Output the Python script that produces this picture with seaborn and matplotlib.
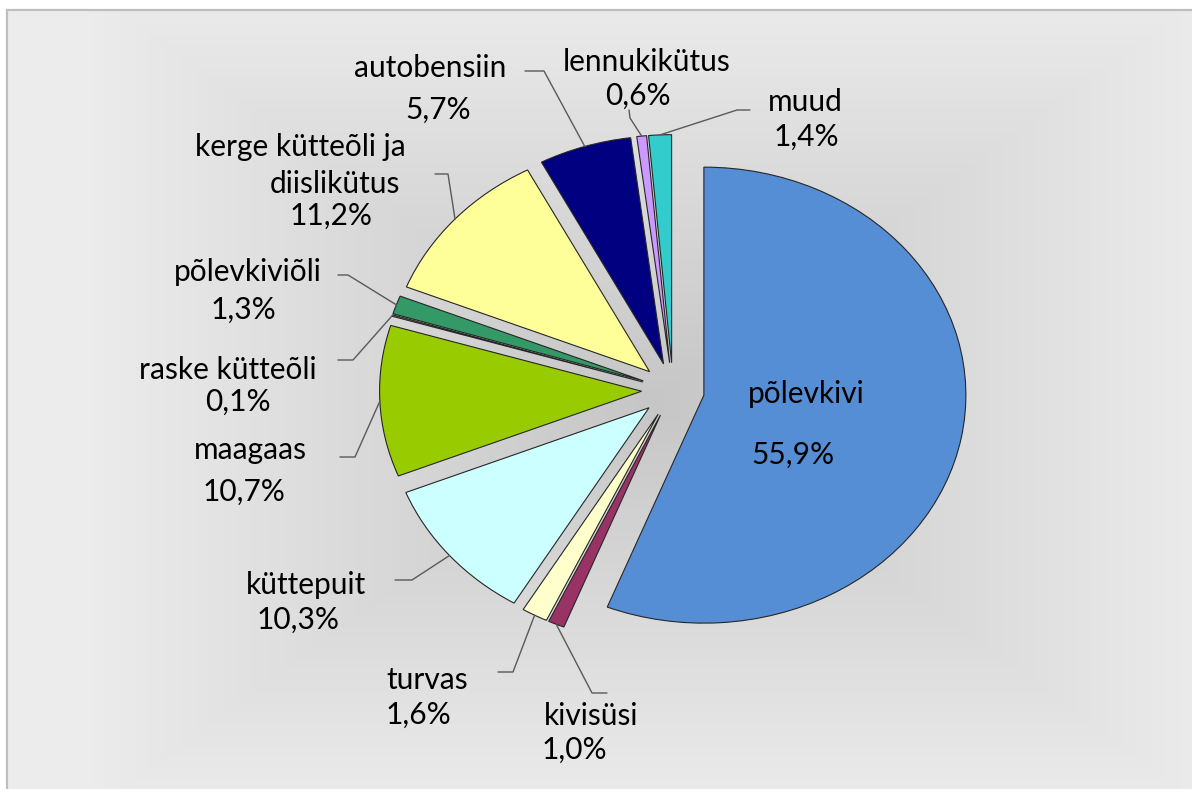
import numpy as np
import matplotlib
matplotlib.use("Agg")
import matplotlib.pyplot as plt
import seaborn as sns

# data
fuels = ["põlevkivi", "kivisüsi", "turvas", "küttepuit", "maagaas", "raske kütteõli",
         "põlevkiviõli", "kerge kütteõli ja\ndiislikütus", "autobensiin", "lennukikütus", "muud"]
shares = [55.9, 1.0, 1.6, 10.3, 10.7, 0.1, 1.3, 11.2, 5.7, 0.6, 1.4]
colors = ["#558ED5", "#993366", "#FFFFCC", "#CCFFFF", "#99CC00", "#8C8C8C",
          "#339966", "#FFFF99", "#000080", "#CC99FF", "#33CCCC"]

# layout (pixel positions of the hand-placed labels)
name_pos = [[(806, 394)], [(591, 716)], [(427, 680)], [(306, 585)], [(250, 450)],
            [(228, 370)], [(248, 272)], [(300, 147), (335, 184)], [(430, 68)],
            [(647, 62)], [(805, 102)]]
pct_pos = [(793, 455), (574, 750), (418, 715), (298, 620), (244, 492), (238, 402),
           (243, 310), (331, 216), (438, 110), (638, 96), (806, 137)]
leaders = [None, ((607, 693), (592, 693)), ((498, 672), (513, 672)),
           ((395, 580), (412, 580)), ((340, 457), (355, 457)), ((338, 360), (353, 360)),
           ((338, 275), (348, 275)), ((435, 174), (448, 174)), ((525, 71), (544, 71)),
           ((629, 110), (630, 118)), ((750, 110), (737, 110))]

W, H = 1192, 789
CX, CY, RX, RY = 673, 390, 262, 228


def px(x, y):
    return (x - CX) / RX, (CY - y) / RY


sns.set_theme(style="white")
plt.rcParams["font.family"] = ["Lato", "DejaVu Sans"]

fig = plt.figure(figsize=(W / 100, H / 100), dpi=100)
ax = fig.add_axes([0, 0, 1, 1])

# background: rectangular gradient, light at the edges, darker near the pie
gx, gy = np.meshgrid(np.arange(W), np.arange(H))
t = np.maximum(np.abs(gx - 650) / 560, np.abs(gy - 400) / 410)
t = np.clip(t, 0, 1)
shade = (198 + 38 * t) / 255
bg = np.dstack([shade, shade, shade])
bg[:, :8] = 1
bg[:10, :] = 1
x0, y0 = px(0, 0)
x1, y1 = px(W, H)
ax.imshow(bg, extent=(x0, x1, y1, y0), aspect="auto", zorder=0, interpolation="bilinear")
ax.plot([px(7, 0)[0], px(7, H)[0]], [px(7, 10)[1], px(7, H)[1]], color="#BFBFBF", lw=1.6, zorder=1)
ax.plot([px(7, 10)[0], px(W, 10)[0]], [px(7, 10)[1], px(W, 10)[1]], color="#BFBFBF", lw=1.6, zorder=1)

wedges, _ = ax.pie(shares, colors=colors, startangle=90, counterclock=False,
                   explode=[0.12] * len(shares),
                   wedgeprops=dict(edgecolor="#262626", linewidth=0.8))
for w in wedges:
    w.set_zorder(2)

ax.set_aspect("auto")
ax.set_xlim(x0, x1)
ax.set_ylim(y1, y0)
ax.axis("off")

font = dict(fontsize=21.5, color="black", ha="center", va="center", zorder=4)
for i, w in enumerate(wedges):
    lines = fuels[i].split("\n")
    for line, pos in zip(lines, name_pos[i]):
        ax.text(*px(*pos), line, **font)
    pct = f"{shares[i]:.1f}".replace(".", ",") + "%"
    ax.text(*px(*pct_pos[i]), pct, **font)
    if leaders[i] is not None:
        mid = np.deg2rad((w.theta1 + w.theta2) / 2)
        ax_, ay_ = w.center[0] + w.r * np.cos(mid), w.center[1] + w.r * np.sin(mid)
        s, e = leaders[i]
        pts = [px(*s), px(*e), (ax_, ay_)]
        ax.plot([p[0] for p in pts], [p[1] for p in pts], color="#595959", lw=1.0, zorder=3)

fig.savefig("out.png", dpi=100)
